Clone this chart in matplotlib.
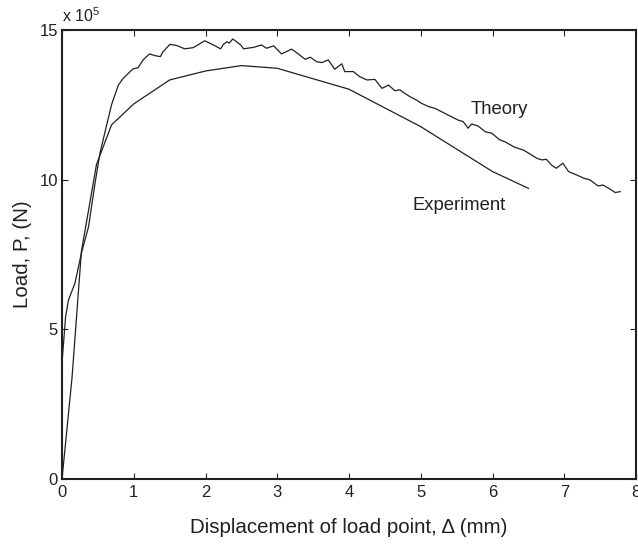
import matplotlib
matplotlib.use("Agg")
import matplotlib.pyplot as plt

plt.rcParams['font.family'] = ['Liberation Sans', 'DejaVu Sans']
plt.rcParams['mathtext.default'] = 'regular'

# experiment curve, load in units of 1e5 N
exp_x = [0, 0.14, 0.27, 0.48, 0.69, 1.0, 1.5, 2.0, 2.5, 3.0, 4.0, 5.0, 6.0, 6.5]
exp_y = [0, 3.4, 7.6, 10.5, 11.83, 12.53, 13.33, 13.63, 13.81, 13.72, 13.02, 11.77, 10.27, 9.71]

# theory curve (noisy)
th_x = [0.005, 0.05, 0.09, 0.18, 0.27, 0.37, 0.46, 0.53, 0.69, 0.785, 0.855, 0.95, 0.99, 1.06,
        1.13, 1.22, 1.30, 1.37, 1.41, 1.505, 1.60, 1.71, 1.83, 1.99, 2.11, 2.21, 2.25, 2.30,
        2.33, 2.38, 2.43, 2.49, 2.53, 2.67, 2.78, 2.85, 2.95, 3.06, 3.20, 3.27, 3.39, 3.46,
        3.55, 3.62, 3.71, 3.80, 3.90, 3.94, 4.06, 4.15, 4.25, 4.36, 4.46, 4.55, 4.64, 4.71,
        4.76, 4.85, 4.94, 5.01, 5.11, 5.20, 5.29, 5.38, 5.52, 5.59, 5.66, 5.71, 5.80, 5.90,
        5.99, 6.10, 6.17, 6.31, 6.43, 6.52, 6.62, 6.69, 6.75, 6.82, 6.89, 6.98, 7.06, 7.17,
        7.27, 7.36, 7.47, 7.54, 7.64, 7.71, 7.78]
th_y = [4.04, 5.42, 5.98, 6.54, 7.54, 8.43, 9.88, 10.9, 12.5, 13.16, 13.39, 13.61, 13.7, 13.74,
        14.0, 14.2, 14.14, 14.11, 14.28, 14.52, 14.48, 14.37, 14.41, 14.64, 14.5, 14.37, 14.52, 14.61,
        14.56, 14.70, 14.61, 14.5, 14.37, 14.42, 14.5, 14.39, 14.47, 14.2, 14.36, 14.24, 14.02, 14.09,
        13.94, 13.91, 14.0, 13.69, 13.87, 13.61, 13.61, 13.44, 13.33, 13.35, 13.05, 13.16, 12.97, 13.0,
        12.91, 12.77, 12.66, 12.55, 12.44, 12.38, 12.27, 12.16, 11.99, 11.94, 11.72, 11.86, 11.79, 11.6,
        11.55, 11.33, 11.27, 11.08, 10.99, 10.86, 10.71, 10.66, 10.68, 10.49, 10.38, 10.55, 10.27, 10.16,
        10.05, 9.99, 9.79, 9.82, 9.68, 9.57, 9.6]

x_ticks = [0, 1, 2, 3, 4, 5, 6, 7, 8]
y_ticks = [0, 5, 10, 15]

ink = '#231f20'

fig = plt.figure(figsize=(6.38, 5.45), dpi=100)
ax = fig.add_axes([0.0972, 0.1211, 0.8997, 0.8239])

ax.plot(exp_x, exp_y, color=ink, lw=0.9)
ax.plot(th_x, th_y, color=ink, lw=0.9)

ax.set_xlim(0, 8)
ax.set_ylim(0, 15)
ax.set_xticks(x_ticks)
ax.set_yticks(y_ticks)
ax.tick_params(direction='in', length=4, width=0.8, color=ink, labelcolor=ink,
               labelsize=12, top=True, right=True)
ax.tick_params(axis='x', pad=4)
ax.tick_params(axis='y', pad=3)
for s in ax.spines.values():
    s.set_linewidth(1.5)
    s.set_color(ink)

ax.set_xlabel('Displacement of load point, Δ (mm)', fontsize=14.8, color=ink, labelpad=13)
ax.set_ylabel('Load, P, (N)', fontsize=14.8, color=ink, labelpad=5)
ax.text(0, 1.012, 'x 10$^5$', transform=ax.transAxes, fontsize=11.5, color=ink,
        ha='left', va='bottom')

ax.text(5.69, 12.33, 'Theory', fontsize=13.3, color=ink, va='center')
ax.text(4.89, 9.15, 'Experiment', fontsize=13.3, color=ink, va='center')

fig.savefig('out.png', dpi=100)
